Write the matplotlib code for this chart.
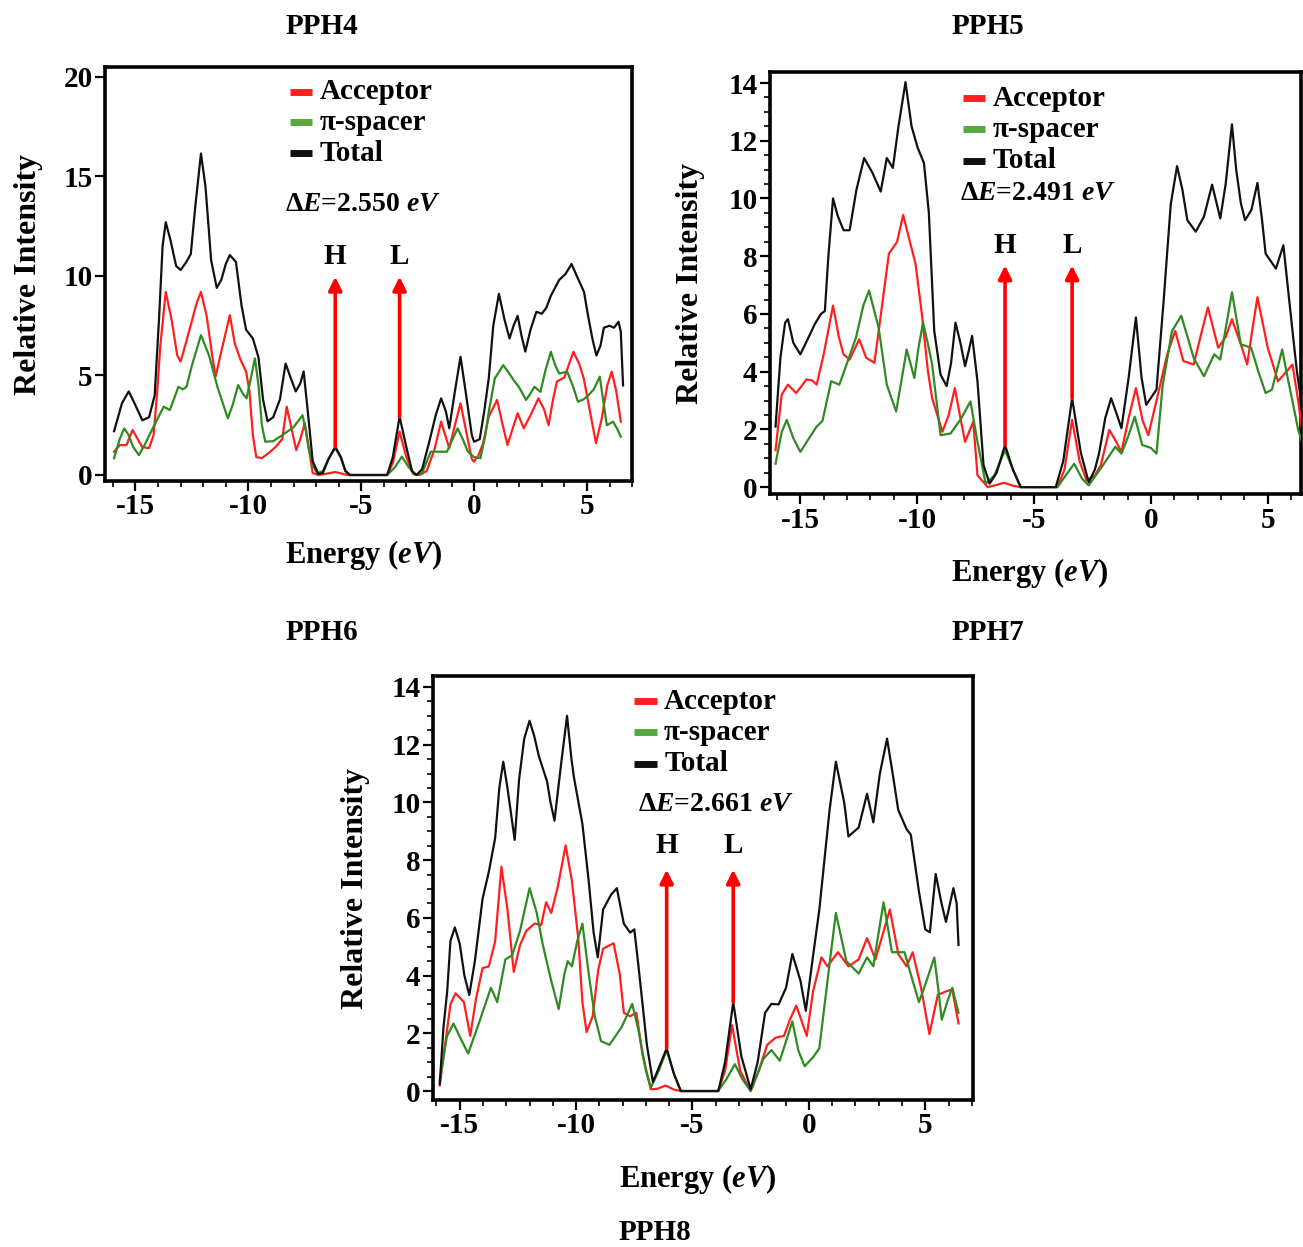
import numpy as np
import matplotlib
matplotlib.use('Agg')
import matplotlib.pyplot as plt
from matplotlib.lines import Line2D
from matplotlib.ticker import MultipleLocator

plt.rcParams['font.family'] = ['Liberation Serif', 'DejaVu Serif']
plt.rcParams['font.weight'] = 'bold'
plt.rcParams['axes.unicode_minus'] = False
plt.rcParams['mathtext.fontset'] = 'custom'
plt.rcParams['mathtext.rm'] = 'Liberation Serif:bold'
plt.rcParams['mathtext.it'] = 'Liberation Serif:italic:bold'
plt.rcParams['mathtext.bf'] = 'Liberation Serif:bold'

# ---- PDOS curves, (energy eV, relative intensity) ----
PPH4_TOTAL = [(-15.95, 2.2), (-15.6, 3.6), (-15.3, 4.2), (-15.0, 3.5), (-14.7, 2.75), (-14.4, 2.9), (-14.15, 4.0),
              (-13.95, 8.0), (-13.8, 11.5), (-13.66, 12.7), (-13.45, 11.8), (-13.2, 10.5), (-13.0, 10.3), (-12.75, 10.7),
              (-12.55, 11.1), (-12.35, 13.5), (-12.1, 16.15), (-11.9, 14.5), (-11.65, 10.8), (-11.4, 9.4), (-11.2, 9.8),
              (-11.0, 10.6), (-10.82, 11.05), (-10.55, 10.7), (-10.3, 8.5), (-10.1, 7.3), (-9.8, 6.86), (-9.55, 5.9),
              (-9.35, 3.8), (-9.15, 2.7), (-8.9, 2.9), (-8.6, 3.8), (-8.35, 5.6), (-8.1, 4.8), (-7.9, 4.2), (-7.7, 4.6),
              (-7.55, 5.2), (-7.35, 3.0), (-7.15, 0.7), (-6.9, 0.05), (-6.7, 0.1), (-6.45, 0.8), (-6.15, 1.42),
              (-5.9, 0.9), (-5.7, 0.2), (-5.5, 0.0), (-3.85, 0.0), (-3.6, 0.9), (-3.3, 2.93), (-3.0, 1.4), (-2.75, 0.2),
              (-2.55, 0.0), (-2.3, 0.3), (-2.0, 1.6), (-1.7, 3.0), (-1.46, 3.85), (-1.25, 3.2), (-1.1, 2.35),
              (-0.85, 4.2), (-0.6, 5.94), (-0.35, 4.0), (-0.1, 2.0), (0.0, 1.67), (0.25, 1.8), (0.45, 3.2), (0.65, 4.85),
              (0.85, 7.5), (1.1, 9.1), (1.35, 7.8), (1.57, 6.86), (1.75, 7.5), (1.93, 8.0), (2.1, 7.0), (2.27, 6.2),
              (2.5, 7.3), (2.76, 8.2), (3.0, 8.1), (3.2, 8.4), (3.4, 9.0), (3.77, 9.8), (4.05, 10.1), (4.32, 10.6),
              (4.55, 10.0), (4.87, 9.2), (5.05, 8.0), (5.25, 6.8), (5.42, 6.0), (5.6, 6.5), (5.75, 7.4), (6.0, 7.5),
              (6.2, 7.4), (6.4, 7.7), (6.5, 7.2), (6.6, 4.5)]
PPH4_ACCEPTOR = [(-15.95, 1.17), (-15.7, 1.5), (-15.4, 1.5), (-15.13, 2.26), (-14.9, 1.8), (-14.7, 1.4), (-14.4, 1.35),
                 (-14.2, 2.0), (-14.05, 4.0), (-13.9, 6.5), (-13.66, 9.2), (-13.4, 7.8), (-13.15, 6.0), (-13.0, 5.7),
                 (-12.8, 6.5), (-12.56, 7.5), (-12.3, 8.6), (-12.1, 9.2), (-11.85, 8.0), (-11.6, 6.0), (-11.45, 4.95),
                 (-11.2, 6.2), (-10.82, 8.03), (-10.6, 6.6), (-10.35, 5.8), (-10.1, 5.2), (-9.95, 4.2), (-9.8, 2.0),
                 (-9.65, 0.9), (-9.4, 0.85), (-9.1, 1.1), (-8.8, 1.4), (-8.5, 1.8), (-8.3, 3.43), (-8.1, 2.4),
                 (-7.88, 1.25), (-7.7, 1.8), (-7.5, 2.6), (-7.3, 1.2), (-7.15, 0.1), (-6.9, 0.0), (-6.6, 0.05),
                 (-6.15, 0.15), (-5.8, 0.05), (-5.6, 0.0), (-3.85, 0.0), (-3.6, 0.6), (-3.3, 2.18), (-3.0, 0.9),
                 (-2.7, 0.05), (-2.4, 0.0), (-2.1, 0.2), (-1.75, 1.3), (-1.46, 2.68), (-1.25, 1.9), (-1.1, 1.35),
                 (-0.85, 2.5), (-0.6, 3.6), (-0.35, 2.2), (-0.1, 0.8), (0.0, 0.67), (0.2, 1.0), (0.4, 1.6), (0.65, 2.93),
                 (1.02, 3.77), (1.25, 2.6), (1.48, 1.5), (1.7, 2.3), (1.93, 3.1), (2.2, 2.35), (2.5, 3.0), (2.85, 3.85),
                 (3.1, 3.3), (3.3, 2.5), (3.5, 3.8), (3.67, 4.7), (4.0, 4.9), (4.4, 6.19), (4.65, 5.6), (4.86, 4.85),
                 (5.1, 3.4), (5.4, 1.6), (5.65, 2.8), (5.9, 4.5), (6.1, 5.19), (6.3, 4.2), (6.5, 2.68)]
PPH4_SPACER = [(-15.95, 0.84), (-15.7, 1.8), (-15.5, 2.34), (-15.3, 2.0), (-15.1, 1.4), (-14.85, 1.0), (-14.6, 1.5),
               (-14.3, 2.2), (-14.12, 2.6), (-13.9, 3.1), (-13.75, 3.43), (-13.48, 3.26), (-13.3, 3.8), (-13.1, 4.43),
               (-12.9, 4.3), (-12.74, 4.43), (-12.5, 5.5), (-12.1, 7.03), (-11.74, 6.0), (-11.37, 4.43), (-11.1, 3.5),
               (-10.91, 2.85), (-10.7, 3.5), (-10.45, 4.52), (-10.25, 4.1), (-10.08, 3.85), (-9.9, 4.8), (-9.71, 5.86),
               (-9.55, 4.5), (-9.4, 2.5), (-9.25, 1.67), (-8.9, 1.7), (-8.5, 2.0), (-8.0, 2.4), (-7.6, 3.0),
               (-7.45, 2.2), (-7.33, 1.34), (-7.1, 0.4), (-6.96, 0.08), (-6.7, 0.2), (-6.45, 0.8), (-6.15, 1.35),
               (-5.9, 0.85), (-5.7, 0.2), (-5.5, 0.0), (-3.85, 0.0), (-3.5, 0.4), (-3.2, 0.92), (-2.9, 0.4),
               (-2.6, 0.0), (-2.3, 0.1), (-1.92, 1.17), (-1.2, 1.17), (-0.95, 1.8), (-0.73, 2.34), (-0.5, 1.8),
               (-0.27, 1.17), (0.0, 0.9), (0.28, 0.84), (0.5, 2.0), (0.65, 3.18), (0.92, 4.85), (1.29, 5.52),
               (1.5, 5.2), (1.75, 4.77), (2.0, 4.4), (2.3, 3.77), (2.5, 4.1), (2.67, 4.43), (2.94, 4.18), (3.15, 5.2),
               (3.4, 6.19), (3.6, 5.5), (3.77, 5.1), (4.13, 5.19), (4.4, 4.4), (4.6, 3.68), (4.85, 3.8), (5.06, 4.0),
               (5.3, 4.3), (5.57, 4.94), (5.75, 3.5), (5.88, 2.5), (6.16, 2.68), (6.35, 2.3), (6.5, 1.92)]

PPH5_TOTAL = [(-16.06, 2.1), (-15.85, 4.5), (-15.65, 5.7), (-15.53, 5.82), (-15.3, 5.0), (-15.0, 4.6), (-14.7, 5.1),
              (-14.38, 5.65), (-14.12, 6.0), (-13.95, 6.1), (-13.8, 8.0), (-13.6, 10.0), (-13.4, 9.4), (-13.15, 8.9),
              (-12.89, 8.9), (-12.6, 10.3), (-12.27, 11.4), (-11.92, 10.9), (-11.56, 10.24), (-11.3, 11.4),
              (-11.04, 11.06), (-10.8, 12.5), (-10.5, 14.03), (-10.24, 12.5), (-9.98, 11.76), (-9.71, 11.23),
              (-9.5, 9.5), (-9.27, 5.41), (-9.0, 3.9), (-8.74, 3.5), (-8.55, 4.3), (-8.36, 5.7), (-8.15, 5.0),
              (-7.95, 4.19), (-7.8, 4.7), (-7.65, 5.24), (-7.42, 3.67), (-7.16, 0.76), (-6.9, 0.12), (-6.6, 0.5),
              (-6.24, 1.46), (-5.9, 0.6), (-5.57, 0.0), (-4.07, 0.0), (-3.75, 0.9), (-3.37, 3.08), (-3.0, 1.2),
              (-2.66, 0.17), (-2.4, 0.6), (-2.22, 1.16), (-1.95, 2.4), (-1.7, 3.08), (-1.45, 2.5), (-1.26, 2.04),
              (-0.95, 3.8), (-0.64, 5.88), (-0.4, 3.8), (-0.2, 2.85), (0.24, 3.38), (0.55, 6.5), (0.85, 9.8),
              (1.12, 11.12), (1.35, 10.3), (1.56, 9.25), (1.92, 8.85), (2.27, 9.37), (2.62, 10.48), (2.97, 9.31),
              (3.2, 10.5), (3.47, 12.57), (3.65, 11.0), (3.85, 9.84), (4.03, 9.25), (4.3, 9.6), (4.56, 10.54),
              (4.75, 9.3), (4.91, 8.09), (5.35, 7.57), (5.67, 8.38), (5.85, 7.0), (6.06, 5.41), (6.25, 4.0),
              (6.41, 3.08)]
PPH5_ACCEPTOR = [(-16.06, 1.28), (-15.8, 3.2), (-15.53, 3.55), (-15.18, 3.26), (-14.95, 3.5), (-14.74, 3.73),
                 (-14.5, 3.7), (-14.3, 3.55), (-14.0, 4.6), (-13.6, 6.29), (-13.35, 5.2), (-13.15, 4.6), (-12.89, 4.42),
                 (-12.48, 5.12), (-12.18, 4.48), (-11.83, 4.31), (-11.55, 6.0), (-11.21, 8.09), (-10.86, 8.5),
                 (-10.6, 9.43), (-10.33, 8.56), (-10.07, 7.74), (-9.8, 6.0), (-9.54, 4.02), (-9.36, 3.08),
                 (-8.92, 1.92), (-8.65, 2.5), (-8.39, 3.43), (-8.15, 2.4), (-7.95, 1.57), (-7.6, 2.27), (-7.42, 0.41),
                 (-6.98, 0.0), (-6.6, 0.08), (-6.28, 0.15), (-5.9, 0.05), (-5.57, 0.0), (-4.0, 0.0), (-3.7, 0.6),
                 (-3.37, 2.33), (-3.05, 0.9), (-2.75, 0.23), (-2.4, 0.4), (-2.14, 0.76), (-1.78, 1.98), (-1.5, 1.6),
                 (-1.26, 1.22), (-0.95, 2.4), (-0.64, 3.43), (-0.35, 2.3), (-0.11, 1.8), (0.3, 3.2), (0.7, 4.6),
                 (1.04, 5.41), (1.39, 4.37), (1.83, 4.25), (2.15, 5.3), (2.44, 6.23), (2.88, 4.83), (3.2, 5.2),
                 (3.47, 5.82), (3.85, 4.95), (4.12, 4.25), (4.35, 5.5), (4.56, 6.58), (5.0, 4.83), (5.44, 3.67),
                 (5.8, 4.0), (6.06, 4.25), (6.3, 3.0), (6.5, 1.8)]
PPH5_SPACER = [(-16.06, 0.81), (-15.8, 1.9), (-15.58, 2.33), (-15.3, 1.7), (-15.0, 1.22), (-14.7, 1.6), (-14.3, 2.1),
               (-14.05, 2.3), (-13.68, 3.67), (-13.33, 3.55), (-12.97, 4.37), (-12.62, 5.18), (-12.3, 6.3),
               (-12.06, 6.81), (-11.65, 5.53), (-11.3, 3.55), (-10.9, 2.62), (-10.65, 3.8), (-10.45, 4.77),
               (-10.12, 3.78), (-9.95, 4.8), (-9.75, 5.7), (-9.55, 5.0), (-9.36, 4.25), (-9.0, 1.8), (-8.57, 1.86),
               (-8.1, 2.4), (-7.72, 2.97), (-7.42, 1.57), (-7.07, 0.12), (-6.7, 0.4), (-6.24, 1.28), (-5.9, 0.6),
               (-5.57, 0.0), (-4.0, 0.0), (-3.65, 0.4), (-3.28, 0.81), (-2.95, 0.3), (-2.66, 0.06), (-2.05, 0.76),
               (-1.52, 1.4), (-1.26, 1.16), (-0.95, 1.8), (-0.69, 2.44), (-0.37, 1.46), (0.0, 1.36), (0.24, 1.16),
               (0.5, 3.5), (0.9, 5.4), (1.3, 5.94), (1.83, 4.48), (2.27, 3.84), (2.71, 4.6), (2.97, 4.42),
               (3.47, 6.75), (3.85, 4.95), (4.29, 4.83), (4.6, 4.0), (4.91, 3.26), (5.18, 3.38), (5.62, 4.77),
               (5.85, 3.8), (6.06, 2.97), (6.3, 2.0), (6.5, 1.46)]

PPH8_TOTAL = [(-15.86, 0.25), (-15.7, 2.2), (-15.54, 3.45), (-15.4, 5.2), (-15.21, 5.67), (-15.0, 5.1), (-14.8, 4.0),
              (-14.59, 3.33), (-14.35, 4.5), (-14.02, 6.66), (-13.75, 7.6), (-13.48, 8.76), (-13.3, 10.5),
              (-13.13, 11.41), (-12.95, 10.5), (-12.64, 8.7), (-12.45, 10.8), (-12.23, 12.21), (-12.0, 12.83),
              (-11.8, 12.3), (-11.6, 11.6), (-11.25, 10.73), (-11.1, 10.0), (-10.93, 9.37), (-10.65, 11.3),
              (-10.39, 13.0), (-10.2, 11.5), (-10.09, 10.85), (-9.73, 9.25), (-9.46, 7.28), (-9.25, 5.5),
              (-9.07, 4.63), (-8.84, 6.29), (-8.5, 6.8), (-8.25, 7.03), (-7.95, 5.8), (-7.68, 5.49), (-7.5, 5.6),
              (-7.32, 4.32), (-6.96, 1.6), (-6.7, 0.31), (-6.4, 0.9), (-6.11, 1.48), (-5.8, 0.6), (-5.5, 0.0),
              (-3.89, 0.0), (-3.6, 1.0), (-3.25, 3.08), (-2.9, 1.2), (-2.5, 0.06), (-2.2, 1.0), (-1.88, 2.71),
              (-1.61, 3.02), (-1.3, 3.0), (-0.98, 3.58), (-0.71, 4.75), (-0.36, 3.82), (-0.13, 2.78), (0.15, 4.5),
              (0.45, 6.29), (0.89, 9.74), (1.16, 11.41), (1.52, 9.99), (1.7, 8.82), (2.14, 9.13), (2.5, 10.3),
              (2.77, 9.31), (3.05, 11.0), (3.36, 12.21), (3.6, 11.0), (3.84, 9.74), (4.2, 9.07), (4.38, 8.88),
              (4.73, 6.91), (5.0, 5.6), (5.2, 5.5), (5.45, 7.52), (5.7, 6.5), (5.89, 5.86), (6.21, 7.03),
              (6.35, 6.5), (6.43, 5.06)]
PPH8_ACCEPTOR = [(-15.86, 0.19), (-15.63, 1.6), (-15.4, 3.0), (-15.18, 3.39), (-14.82, 3.08), (-14.55, 1.91),
                 (-14.3, 3.2), (-14.02, 4.26), (-13.75, 4.32), (-13.48, 5.18), (-13.21, 7.77), (-12.95, 6.29),
                 (-12.68, 4.13), (-12.41, 5.06), (-12.14, 5.55), (-11.79, 5.8), (-11.5, 5.75), (-11.29, 6.54),
                 (-11.07, 6.17), (-10.8, 7.03), (-10.45, 8.51), (-10.18, 7.28), (-9.91, 5.3), (-9.73, 3.08),
                 (-9.55, 2.04), (-9.29, 2.59), (-9.05, 4.2), (-8.84, 4.93), (-8.39, 5.12), (-8.13, 4.07),
                 (-7.95, 2.71), (-7.68, 2.59), (-7.41, 2.71), (-7.14, 1.23), (-6.79, 0.06), (-6.5, 0.08),
                 (-6.16, 0.19), (-5.8, 0.05), (-5.5, 0.0), (-3.9, 0.0), (-3.6, 0.7), (-3.3, 2.28), (-2.95, 0.7),
                 (-2.5, 0.0), (-2.14, 0.74), (-1.79, 1.6), (-1.43, 1.85), (-1.07, 1.91), (-0.8, 2.5), (-0.54, 2.96),
                 (-0.3, 2.4), (-0.09, 1.91), (0.18, 3.45), (0.54, 4.63), (0.8, 4.32), (1.25, 4.81), (1.7, 4.32),
                 (2.14, 4.56), (2.5, 5.3), (2.86, 4.56), (3.2, 5.5), (3.48, 6.29), (3.84, 4.75), (4.2, 4.32),
                 (4.46, 4.81), (4.82, 3.58), (5.18, 1.97), (5.54, 3.33), (5.89, 3.45), (6.16, 3.52), (6.43, 2.34)]
PPH8_SPACER = [(-15.86, 0.37), (-15.55, 1.9), (-15.27, 2.34), (-14.95, 1.8), (-14.64, 1.3), (-14.2, 2.3),
               (-13.66, 3.58), (-13.39, 3.08), (-13.04, 4.56), (-12.75, 4.7), (-12.41, 5.55), (-12.0, 7.03),
               (-11.7, 6.2), (-11.43, 5.06), (-11.07, 3.82), (-10.75, 2.84), (-10.5, 4.07), (-10.36, 4.5),
               (-10.18, 4.32), (-9.95, 5.2), (-9.73, 5.8), (-9.46, 4.07), (-9.2, 2.6), (-8.93, 1.73), (-8.57, 1.6),
               (-8.04, 2.22), (-7.59, 3.02), (-7.32, 2.1), (-7.0, 0.7), (-6.79, 0.12), (-6.45, 0.7), (-6.11, 1.42),
               (-5.8, 0.6), (-5.5, 0.0), (-3.9, 0.0), (-3.55, 0.4), (-3.18, 0.93), (-2.85, 0.4), (-2.5, 0.0),
               (-2.2, 0.6), (-1.96, 1.11), (-1.61, 1.42), (-1.25, 1.05), (-0.95, 1.8), (-0.71, 2.41), (-0.45, 1.4),
               (-0.18, 0.86), (0.18, 1.17), (0.45, 1.48), (0.8, 3.82), (1.16, 6.17), (1.61, 4.5), (2.14, 4.07),
               (2.5, 4.63), (2.77, 4.32), (3.0, 5.5), (3.21, 6.54), (3.57, 4.81), (4.11, 4.81), (4.46, 3.82),
               (4.73, 3.08), (5.05, 3.8), (5.39, 4.63), (5.55, 3.6), (5.71, 2.47), (5.95, 3.1), (6.16, 3.58),
               (6.43, 2.71)]

# HOMO / LUMO arrows: energy position, arrow base, arrow tip
PPH4_HL = {'H': (-6.15, 1.42, 9.96), 'L': (-3.3, 2.93, 9.96)}
PPH5_HL = {'H': (-6.24, 1.46, 7.68), 'L': (-3.37, 3.08, 7.68)}
PPH8_HL = {'H': (-6.11, 1.48, 7.67), 'L': (-3.25, 3.08, 7.67)}
GAPS = ['2.550', '2.491', '2.661']

RED = '#ff1f1f'
GREEN = '#2e8b22'
LEGEND_GREEN = '#57a83c'
BLACK = '#111111'
FS = 21

fig = plt.figure(figsize=(13.03, 12.47), dpi=100)


def draw_panel(rect, total, acceptor, spacer, hl, gap, xlim, ylim, ystep, yminor,
               hl_label_y, leg_x, leg_y, gap_xy, ylabel_x, xlabel_y):
    ax = fig.add_axes(rect)
    for pts, col in ((acceptor, RED), (spacer, GREEN), (total, BLACK)):
        e, d = np.array(pts).T
        ax.plot(e, d, color=col, lw=1.6, zorder=3, solid_joinstyle='round')

    for name, (e, base, tip) in hl.items():
        ax.annotate('', xy=(e, tip), xytext=(e, base),
                    arrowprops=dict(arrowstyle='-|>', color='red', lw=2.6,
                                    mutation_scale=20, shrinkA=0, shrinkB=0), zorder=4)
        ax.text(e, hl_label_y, name, ha='center', va='center', fontsize=FS, fontweight='bold')

    ax.set_xlim(*xlim)
    ax.set_ylim(*ylim)
    ax.xaxis.set_major_locator(MultipleLocator(5))
    ax.xaxis.set_minor_locator(MultipleLocator(1))
    ax.yaxis.set_major_locator(MultipleLocator(ystep))
    if yminor:
        ax.yaxis.set_minor_locator(MultipleLocator(yminor))
    ax.tick_params(which='major', direction='out', length=7, width=1.6, labelsize=FS, pad=2)
    ax.tick_params(which='minor', direction='out', length=4, width=1.2)
    for lab in ax.get_xticklabels() + ax.get_yticklabels():
        lab.set_fontweight('bold')
    for sp in ax.spines.values():
        sp.set_linewidth(2.6)

    ax.set_xlabel(r'Energy ($eV$)', fontsize=22, fontweight='bold')
    ax.set_ylabel('Relative Intensity', fontsize=23, fontweight='bold')
    ax.yaxis.set_label_coords(ylabel_x, 0.5)
    ax.xaxis.set_label_coords(0.49, xlabel_y)

    # legend swatches and labels
    rows = [('Acceptor', RED), ('π-spacer', LEGEND_GREEN), ('Total', BLACK)]
    for i, (txt, col) in enumerate(rows):
        y = leg_y - i * 0.074
        ax.add_line(Line2D([leg_x, leg_x + 0.042], [y, y], color=col, lw=5,
                           solid_capstyle='butt', transform=ax.transAxes))
        ax.text(leg_x + 0.056, y, txt, transform=ax.transAxes, ha='left', va='center',
                fontsize=FS, fontweight='bold')

    ax.text(gap_xy[0], gap_xy[1], r'$\Delta E$=' + gap + r' $eV$', transform=ax.transAxes,
            ha='left', va='center', fontsize=20, fontweight='bold')
    return ax


draw_panel([0.0806, 0.6143, 0.4045, 0.3320], PPH4_TOTAL, PPH4_ACCEPTOR, PPH4_SPACER, PPH4_HL, GAPS[0],
           (-16.35, 7.0), (-0.3, 20.5), 5, None, 10.96, 0.351, 0.940, (0.342, 0.667), -0.118, -0.138)
draw_panel([0.5909, 0.6038, 0.4075, 0.3384], PPH5_TOTAL, PPH5_ACCEPTOR, PPH5_SPACER, PPH5_HL, GAPS[1],
           (-16.3, 6.42), (-0.24, 14.38), 2, 0.5, 8.38, 0.363, 0.938, (0.358, 0.712), -0.122, -0.147)
draw_panel([0.3323, 0.1179, 0.4144, 0.3400], PPH8_TOTAL, PPH8_ACCEPTOR, PPH8_SPACER, PPH8_HL, GAPS[2],
           (-16.15, 7.05), (-0.31, 14.38), 2, 0.5, 8.51, 0.372, 0.941, (0.38, 0.698), -0.117, -0.146)

# panel captions
W, H = 1303, 1247
for name, (px, py) in {'PPH4': (322, 27), 'PPH5': (988, 27), 'PPH6': (322, 633),
                       'PPH7': (988, 633), 'PPH8': (655, 1233)}.items():
    fig.text(px / W, 1 - py / H, name, ha='center', va='center', fontsize=21, fontweight='bold')

fig.savefig('out.png', dpi=100)
